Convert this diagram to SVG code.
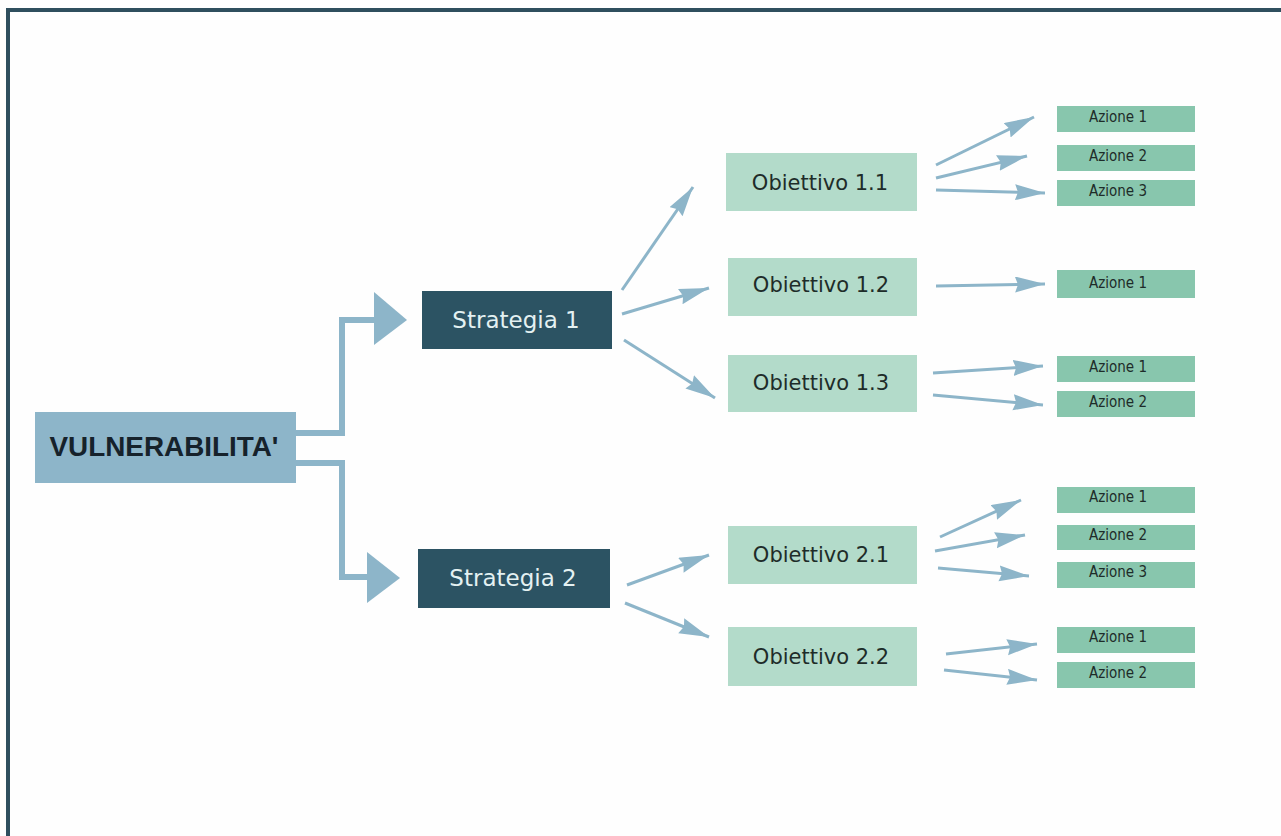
<svg xmlns="http://www.w3.org/2000/svg" width="1281" height="836" viewBox="0 0 1281 836">
<defs>
<style>
.frame{fill:#2f4f5e}
.root{fill:#8db5c9}
.strat{fill:#2c5363}
.obj{fill:#b3dbca}
.act{fill:#88c6ad}
.t-root{font-family:"Liberation Sans",Arial,sans-serif;font-weight:bold;font-size:28px;fill:#16222b;text-anchor:middle;dominant-baseline:central}
.t-strat{font-family:"DejaVu Sans",Verdana,sans-serif;font-size:23px;fill:#e4f1f2;text-anchor:middle;dominant-baseline:central}
.t-obj{font-family:"DejaVu Sans",Verdana,sans-serif;font-size:21px;fill:#1e2c29;text-anchor:middle;dominant-baseline:central}
.t-act{font-family:"DejaVu Sans Condensed","DejaVu Sans",sans-serif;font-size:15px;fill:#1e2c29;text-anchor:middle;dominant-baseline:central}
.elbow{fill:none;stroke:#8db5c9;stroke-width:6}
.big{fill:#8db5c9}
.arr{fill:none;stroke:#8db5c9;stroke-width:3;marker-end:url(#ah)}
</style>
<marker id="ah" markerUnits="userSpaceOnUse" markerWidth="32" markerHeight="18" refX="30" refY="8" orient="auto">
<path d="M0,0 L30,8 L0,16 L3,8 Z" fill="#8db5c9"/>
</marker>
</defs>
<rect width="1281" height="836" fill="#fefefe"/>
<rect class="frame" x="6" y="8" width="1275" height="4"/>
<rect class="frame" x="6" y="8" width="4" height="828"/>

<g id="connectors">
<path class="elbow" d="M296,433 H342 V320 H376"/>
<polygon class="big" points="374,292 407,320 374,345"/>
<path class="elbow" d="M296,463 H342 V577 H369"/>
<polygon class="big" points="367,552 400,578 367,603"/>
<line class="arr" x1="622" y1="290" x2="693" y2="187"/>
<line class="arr" x1="622" y1="314" x2="709" y2="288"/>
<line class="arr" x1="624" y1="340" x2="715" y2="398"/>
<line class="arr" x1="627" y1="585" x2="709" y2="555"/>
<line class="arr" x1="625" y1="603" x2="709" y2="637"/>
<line class="arr" x1="936" y1="165" x2="1034" y2="117"/>
<line class="arr" x1="936" y1="178" x2="1027" y2="156"/>
<line class="arr" x1="936" y1="190" x2="1045" y2="193"/>
<line class="arr" x1="936" y1="286" x2="1045" y2="284"/>
<line class="arr" x1="933" y1="373" x2="1043" y2="366"/>
<line class="arr" x1="933" y1="395" x2="1043" y2="405"/>
<line class="arr" x1="940" y1="537" x2="1021" y2="500"/>
<line class="arr" x1="935" y1="551" x2="1025" y2="535"/>
<line class="arr" x1="938" y1="568" x2="1029" y2="576"/>
<line class="arr" x1="946" y1="654" x2="1037" y2="644"/>
<line class="arr" x1="944" y1="670" x2="1037" y2="680"/>
</g>

<g id="vulnerabilita"><rect class="root" x="35" y="412" width="261" height="71"/><text class="t-root" x="164" y="446" textLength="229" lengthAdjust="spacingAndGlyphs">VULNERABILITA'</text></g>
<g id="strategia1"><rect class="strat" x="422" y="291" width="190" height="58"/><text class="t-strat" x="516" y="320">Strategia 1</text></g>
<g id="strategia2"><rect class="strat" x="418" y="549" width="192" height="59"/><text class="t-strat" x="513" y="578">Strategia 2</text></g>

<g id="obiettivo11"><rect class="obj" x="726" y="153" width="191" height="58"/><text class="t-obj" x="820" y="183">Obiettivo 1.1</text></g>
<g id="obiettivo12"><rect class="obj" x="728" y="258" width="189" height="58"/><text class="t-obj" x="821" y="285">Obiettivo 1.2</text></g>
<g id="obiettivo13"><rect class="obj" x="728" y="355" width="189" height="57"/><text class="t-obj" x="821" y="383">Obiettivo 1.3</text></g>
<g id="obiettivo21"><rect class="obj" x="728" y="526" width="189" height="58"/><text class="t-obj" x="821" y="555">Obiettivo 2.1</text></g>
<g id="obiettivo22"><rect class="obj" x="728" y="627" width="189" height="59"/><text class="t-obj" x="821" y="657">Obiettivo 2.2</text></g>

<g id="a11-1"><rect class="act" x="1057" y="106" width="138" height="26"/><text class="t-act" x="1118" y="117">Azione 1</text></g>
<g id="a11-2"><rect class="act" x="1057" y="145" width="138" height="26"/><text class="t-act" x="1118" y="156">Azione 2</text></g>
<g id="a11-3"><rect class="act" x="1057" y="180" width="138" height="26"/><text class="t-act" x="1118" y="191">Azione 3</text></g>
<g id="a12-1"><rect class="act" x="1057" y="270" width="138" height="28"/><text class="t-act" x="1118" y="283">Azione 1</text></g>
<g id="a13-1"><rect class="act" x="1057" y="356" width="138" height="26"/><text class="t-act" x="1118" y="367">Azione 1</text></g>
<g id="a13-2"><rect class="act" x="1057" y="391" width="138" height="26"/><text class="t-act" x="1118" y="402">Azione 2</text></g>
<g id="a21-1"><rect class="act" x="1057" y="487" width="138" height="26"/><text class="t-act" x="1118" y="497">Azione 1</text></g>
<g id="a21-2"><rect class="act" x="1057" y="525" width="138" height="25"/><text class="t-act" x="1118" y="535">Azione 2</text></g>
<g id="a21-3"><rect class="act" x="1057" y="562" width="138" height="26"/><text class="t-act" x="1118" y="572">Azione 3</text></g>
<g id="a22-1"><rect class="act" x="1057" y="627" width="138" height="26"/><text class="t-act" x="1118" y="637">Azione 1</text></g>
<g id="a22-2"><rect class="act" x="1057" y="662" width="138" height="26"/><text class="t-act" x="1118" y="673">Azione 2</text></g>
</svg>
